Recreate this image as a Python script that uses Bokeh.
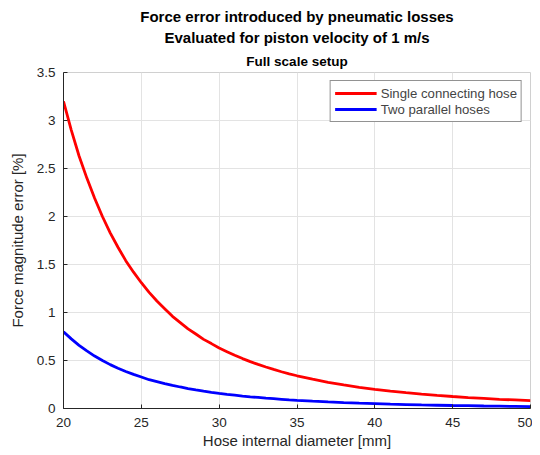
from bokeh.plotting import figure
from bokeh.models import Title, Range1d, Legend, LegendItem, FixedTicker
from bokeh.embed import file_html
from bokeh.resources import INLINE

diameter = [20, 20.5, 21, 21.5, 22, 22.5, 23, 23.5, 24, 24.5, 25, 25.5, 26, 26.5,
            27, 27.5, 28, 28.5, 29, 29.5, 30, 30.5, 31, 31.5, 32, 32.5, 33, 33.5,
            34, 34.5, 35, 36, 37, 38, 39, 40, 41, 42, 43, 44, 45, 46, 47, 48, 49, 50]
single_hose = [3.20, 2.90, 2.63, 2.40, 2.19, 2.00, 1.83, 1.68, 1.54, 1.42, 1.31,
               1.21, 1.12, 1.04, 0.96, 0.895, 0.83, 0.776, 0.72, 0.676, 0.63,
               0.592, 0.554, 0.52, 0.488, 0.459, 0.432, 0.407, 0.383, 0.361, 0.341,
               0.305, 0.273, 0.246, 0.221, 0.20, 0.181, 0.165, 0.15, 0.137, 0.125,
               0.114, 0.105, 0.096, 0.089, 0.082]
two_hoses = [0.80, 0.725, 0.658, 0.60, 0.546, 0.50, 0.457, 0.42, 0.386, 0.355, 0.328,
             0.30, 0.28, 0.26, 0.241, 0.224, 0.208, 0.194, 0.181, 0.169, 0.158,
             0.148, 0.139, 0.13, 0.122, 0.115, 0.108, 0.102, 0.096, 0.09, 0.085,
             0.076, 0.068, 0.061, 0.055, 0.05, 0.045, 0.041, 0.037, 0.034, 0.031,
             0.029, 0.026, 0.024, 0.022, 0.02]
x_ticks = [20, 25, 30, 35, 40, 45, 50]
y_ticks = [0, 0.5, 1, 1.5, 2, 2.5, 3, 3.5]

FONT = "Liberation Sans"

p = figure(width=532, height=451, output_backend="svg", toolbar_location=None,
           x_range=Range1d(20, 50), y_range=Range1d(0, 3.5),
           min_border_left=63, min_border_right=2, min_border_bottom=41, min_border_top=4)

# outermost title slot used as a small top spacer
p.title.text = " "
p.title.text_font = FONT
p.title.text_font_size = "2px"
p.title.standoff = 0
p.title.offset = 0

t3 = Title(text="Full scale setup", align="center", text_color="#000000",
           text_font=FONT, text_font_size="13.5px", text_font_style="bold", standoff=8)
t2 = Title(text="Evaluated for piston velocity of 1 m/s", align="center", text_color="#000000",
           text_font=FONT, text_font_size="15px", text_font_style="bold", standoff=3)
t1 = Title(text="Force error introduced by pneumatic losses", align="center", text_color="#000000",
           text_font=FONT, text_font_size="15px", text_font_style="bold", standoff=2)
p.add_layout(t3, "above")
p.add_layout(t2, "above")
p.add_layout(t1, "above")

r1 = p.line(diameter, single_hose, line_color="#ff0000", line_width=2.8)
r2 = p.line(diameter, two_hoses, line_color="#0000ff", line_width=2.8)

legend = Legend(items=[LegendItem(label="Single connecting hose", renderers=[r1]),
                       LegendItem(label="Two parallel hoses", renderers=[r2])],
                location="top_right", margin=8, padding=4, spacing=0,
                label_text_font=FONT, label_text_font_size="13.2px",
                label_height=16, glyph_height=16, glyph_width=42,
                label_standoff=4, border_line_color="#262626", border_line_width=1,
                background_fill_alpha=1.0)
p.add_layout(legend)

p.xaxis.ticker = FixedTicker(ticks=x_ticks)
p.yaxis.ticker = FixedTicker(ticks=y_ticks)
p.xaxis.minor_tick_line_color = None
p.yaxis.minor_tick_line_color = None
for ax in (p.xaxis, p.yaxis):
    ax.major_tick_in = 4
    ax.major_tick_out = 0
    ax.axis_line_color = "#262626"
    ax.major_tick_line_color = "#262626"
    ax.major_label_text_font = FONT
    ax.major_label_text_font_size = "13.5px"
    ax.major_label_text_color = "#262626"
    ax.axis_label_text_font = FONT
    ax.axis_label_text_font_size = "15px"
    ax.axis_label_text_font_style = "normal"
    ax.axis_label_text_color = "#262626"
p.xaxis.axis_label = "Hose internal diameter [mm]"
p.yaxis.axis_label = "Force magnitude error [%]"
p.xaxis.major_label_standoff = 9
p.yaxis.major_label_standoff = 8
p.xaxis.axis_label_standoff = 2
p.yaxis.axis_label_standoff = 8

p.xgrid.grid_line_color = "#e3e3e3"
p.ygrid.grid_line_color = "#e3e3e3"
p.outline_line_color = "#d0d0d0"
p.background_fill_color = "white"
p.border_fill_color = "white"

open("out.html", "w").write(file_html(p, INLINE))
